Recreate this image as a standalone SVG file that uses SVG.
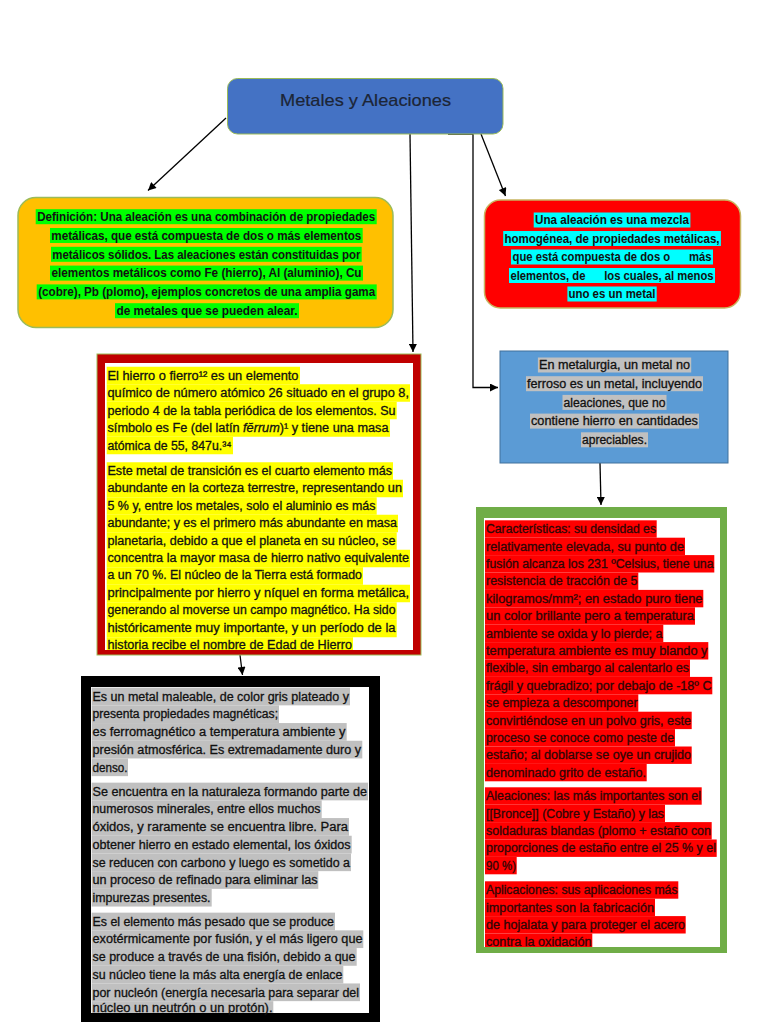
<svg xmlns="http://www.w3.org/2000/svg" width="768" height="1024" viewBox="0 0 768 1024">
<defs>
<marker id="arr" viewBox="0 0 10 10" refX="10" refY="5" markerWidth="9" markerHeight="8" markerUnits="userSpaceOnUse" orient="auto">
<path d="M0,0 L10,5 L0,10 z" fill="#000"/>
</marker>
</defs>
<style>
.t{font-family:"Liberation Sans",Arial,sans-serif;font-size:12px;fill:#111;stroke:#111;stroke-width:0.3}
.b{font-weight:bold;stroke:none}
.c{text-anchor:middle}
.pre{white-space:pre}
.hg{fill:#00FF00}
.hc{fill:#00FFFF}
.hy{fill:#FFFF00}
.hs{fill:#C0C0C0}
.hr{fill:#FF0000}
.dr{fill:#2e0606;stroke:#2e0606}
.con{fill:none;stroke:#000;stroke-width:1.3;marker-end:url(#arr)}
</style>
<rect x="0" y="0" width="768" height="1024" fill="#ffffff"/>

<g id="connectors">
<path class="con" d="M226,118 L148,190.5"/>
<path class="con" d="M410,134 L413,352"/>
<path class="con" d="M448,134 L473,134 L473,387.5 L498,387.5"/>
<path class="con" d="M481,134 L505.5,196"/>
<path class="con" d="M600,463 L601,505"/>
<path class="con" d="M240,655 L242.5,675"/>
</g>

<g id="node-title">
<rect x="227.5" y="78.5" width="275.5" height="55.5" rx="10" fill="#4472C4" stroke="#9BBB59" stroke-width="1"/>
<text class="t c" x="365.5" y="106" style="font-size:17px;fill:#1c2536;stroke:#1c2536;stroke-width:0.2" textLength="171" lengthAdjust="spacingAndGlyphs">Metales y Aleaciones</text>
</g>

<g id="node-definicion">
<rect x="18" y="197.5" width="375" height="130" rx="18" fill="#FFC000" stroke="#9BBB59" stroke-width="1.5"/>
<rect class="hg" x="35.7" y="209.2" width="341" height="15"/>
<rect class="hg" x="50" y="228" width="312.7" height="15"/>
<rect class="hg" x="51" y="246.8" width="310.7" height="15"/>
<rect class="hg" x="50" y="265.6" width="313" height="15"/>
<rect class="hg" x="36.7" y="284.4" width="340" height="15"/>
<rect class="hg" x="115" y="303.2" width="184" height="15"/>
<text class="t b c" x="206.2" y="220.9" textLength="338" lengthAdjust="spacingAndGlyphs">Definición: Una aleación es una combinación de propiedades</text>
<text class="t b c" x="206.35" y="239.7" textLength="310" lengthAdjust="spacingAndGlyphs">metálicas, que está compuesta de dos o más elementos</text>
<text class="t b c" x="206.35" y="258.5" textLength="308" lengthAdjust="spacingAndGlyphs">metálicos sólidos. Las aleaciones están constituidas por</text>
<text class="t b c" x="206.5" y="277.3" textLength="310" lengthAdjust="spacingAndGlyphs">elementos metálicos como Fe (hierro), Al (aluminio), Cu</text>
<text class="t b c" x="206.7" y="296.1" textLength="337" lengthAdjust="spacingAndGlyphs">(cobre), Pb (plomo), ejemplos concretos de una amplia gama</text>
<text class="t b c" x="207" y="314.9" textLength="181" lengthAdjust="spacingAndGlyphs">de metales que se pueden alear.</text>
</g>

<g id="node-mezcla">
<rect x="484.5" y="200" width="256" height="108" rx="16" fill="#FF0000" stroke="#C8B560" stroke-width="1.5"/>
<rect class="hc" x="533.7" y="212.5" width="156.7" height="15"/>
<rect class="hc" x="503.2" y="231" width="217.7" height="15"/>
<rect class="hc" x="511" y="249.5" width="202" height="15"/>
<rect class="hc" x="509" y="268" width="206" height="15"/>
<rect class="hc" x="567.4" y="286.5" width="89.3" height="15"/>
<text class="t b c" x="612" y="224.2" textLength="154" lengthAdjust="spacingAndGlyphs">Una aleación es una mezcla</text>
<text class="t b c" x="612" y="242.7" textLength="215" lengthAdjust="spacingAndGlyphs">homogénea, de propiedades metálicas,</text>
<text class="t b c pre" x="612" y="261.2" textLength="199" lengthAdjust="spacingAndGlyphs">que está compuesta de dos o      más</text>
<text class="t b c pre" x="612" y="279.7" textLength="203" lengthAdjust="spacingAndGlyphs">elementos, de      los cuales, al menos</text>
<text class="t b c" x="612" y="298.2" textLength="87" lengthAdjust="spacingAndGlyphs">uno es un metal</text>
</g>

<g id="node-hierro">
<rect x="97" y="354" width="324" height="301" fill="#C00000" stroke="#9BBB59" stroke-width="1"/>
<rect x="105" y="363" width="308" height="287" fill="#ffffff"/>
<rect class="hy" x="106.7" y="366.75" width="193.3" height="17.5"/>
<rect class="hy" x="106.7" y="384.25" width="303.3" height="17.5"/>
<rect class="hy" x="106.7" y="401.75" width="290" height="17.5"/>
<rect class="hy" x="106.7" y="419.25" width="283.3" height="17.5"/>
<rect class="hy" x="106.7" y="436.75" width="126.3" height="17.5"/>
<text class="t" x="107.5" y="379.7" textLength="191" lengthAdjust="spacingAndGlyphs">El hierro o fierro¹² es un elemento</text>
<text class="t" x="107.5" y="397.2" textLength="301.5" lengthAdjust="spacingAndGlyphs">químico de número atómico 26 situado en el grupo 8,</text>
<text class="t" x="107.5" y="414.7" textLength="288" lengthAdjust="spacingAndGlyphs">periodo 4 de la tabla periódica de los elementos. Su</text>
<text class="t" x="107.5" y="432.2" textLength="281" lengthAdjust="spacingAndGlyphs">símbolo es Fe (del latín <tspan font-style="italic">fĕrrum</tspan>)¹ y tiene una masa</text>
<text class="t" x="107.5" y="449.7" textLength="124" lengthAdjust="spacingAndGlyphs">atómica de 55, 847u.³⁴</text>
<rect class="hy" x="106.7" y="462.25" width="286.3" height="17.5"/>
<rect class="hy" x="106.7" y="479.75" width="296.3" height="17.5"/>
<rect class="hy" x="106.7" y="497.25" width="270" height="17.5"/>
<rect class="hy" x="106.7" y="514.75" width="291.3" height="17.5"/>
<rect class="hy" x="106.7" y="532.25" width="290" height="17.5"/>
<rect class="hy" x="106.7" y="549.75" width="303.3" height="17.5"/>
<rect class="hy" x="106.7" y="567.25" width="256.3" height="17.5"/>
<rect class="hy" x="106.7" y="584.75" width="303.3" height="17.5"/>
<rect class="hy" x="106.7" y="602.25" width="290" height="17.5"/>
<rect class="hy" x="106.7" y="619.75" width="290" height="17.5"/>
<rect class="hy" x="106.7" y="637.25" width="246.3" height="12.75"/>
<text class="t" x="107.5" y="475" textLength="284.5" lengthAdjust="spacingAndGlyphs">Este metal de transición es el cuarto elemento más</text>
<text class="t" x="107.5" y="492.4" textLength="294.5" lengthAdjust="spacingAndGlyphs">abundante en la corteza terrestre, representando un</text>
<text class="t" x="107.5" y="509.8" textLength="268" lengthAdjust="spacingAndGlyphs">5 % y, entre los metales, solo el aluminio es más</text>
<text class="t" x="107.5" y="527.2" textLength="289.5" lengthAdjust="spacingAndGlyphs">abundante; y es el primero más abundante en masa</text>
<text class="t" x="107.5" y="544.6" textLength="288" lengthAdjust="spacingAndGlyphs">planetaria, debido a que el planeta en su núcleo, se</text>
<text class="t" x="107.5" y="562" textLength="301.5" lengthAdjust="spacingAndGlyphs">concentra la mayor masa de hierro nativo equivalente</text>
<text class="t" x="107.5" y="579.4" textLength="254.5" lengthAdjust="spacingAndGlyphs">a un 70 %. El núcleo de la Tierra está formado</text>
<text class="t" x="107.5" y="596.8" textLength="301.5" lengthAdjust="spacingAndGlyphs">principalmente por hierro y níquel en forma metálica,</text>
<text class="t" x="107.5" y="614.2" textLength="288" lengthAdjust="spacingAndGlyphs">generando al moverse un campo magnético. Ha sido</text>
<text class="t" x="107.5" y="631.6" textLength="288" lengthAdjust="spacingAndGlyphs">históricamente muy importante, y un período de la</text>
<text class="t" x="107.5" y="648.6" textLength="244.5" lengthAdjust="spacingAndGlyphs">historia recibe el nombre de Edad de Hierro</text>
</g>

<g id="node-no-ferroso">
<rect x="500" y="351" width="228" height="112" fill="#5B9BD5" stroke="#41719C" stroke-width="1"/>
<rect class="hs" x="537.9" y="357.5" width="153.3" height="15"/>
<rect class="hs" x="526" y="376.2" width="177" height="15"/>
<rect class="hs" x="562.5" y="394.9" width="104" height="15"/>
<rect class="hs" x="530" y="413.6" width="169" height="15"/>
<rect class="hs" x="581" y="432.3" width="67" height="15"/>
<text class="t c" x="614.5" y="369.2" textLength="151" lengthAdjust="spacingAndGlyphs">En metalurgia, un metal no</text>
<text class="t c" x="614.5" y="387.9" textLength="175" lengthAdjust="spacingAndGlyphs">ferroso es un metal, incluyendo</text>
<text class="t c" x="614.5" y="406.6" textLength="102" lengthAdjust="spacingAndGlyphs">aleaciones, que no</text>
<text class="t c" x="614.5" y="425.3" textLength="167" lengthAdjust="spacingAndGlyphs">contiene hierro en cantidades</text>
<text class="t c" x="614.5" y="444" textLength="65" lengthAdjust="spacingAndGlyphs">apreciables.</text>
</g>

<g id="node-propiedades">
<rect x="81" y="676" width="299" height="346" fill="#000000"/>
<rect x="91" y="687" width="278" height="326" fill="#ffffff"/>
<rect class="hs" x="91.7" y="687.65" width="258.3" height="17.7"/>
<rect class="hs" x="91.7" y="705.35" width="187.3" height="17.7"/>
<rect class="hs" x="91.7" y="723.05" width="255" height="17.7"/>
<rect class="hs" x="91.7" y="740.75" width="270.6" height="17.7"/>
<rect class="hs" x="91.7" y="758.45" width="36.3" height="17.7"/>
<text class="t" x="92.5" y="700.7" textLength="256.5" lengthAdjust="spacingAndGlyphs">Es un metal maleable, de color gris plateado y</text>
<text class="t" x="92.5" y="718.4" textLength="185.5" lengthAdjust="spacingAndGlyphs">presenta propiedades magnéticas;</text>
<text class="t" x="92.5" y="736.1" textLength="253" lengthAdjust="spacingAndGlyphs">es ferromagnético a temperatura ambiente y</text>
<text class="t" x="92.5" y="753.8" textLength="268.5" lengthAdjust="spacingAndGlyphs">presión atmosférica. Es extremadamente duro y</text>
<text class="t" x="92.5" y="771.5" textLength="35" lengthAdjust="spacingAndGlyphs">denso.</text>
<rect class="hs" x="91.7" y="782.65" width="276.3" height="17.7"/>
<rect class="hs" x="91.7" y="800.35" width="230" height="17.7"/>
<rect class="hs" x="91.7" y="818.05" width="257.3" height="17.7"/>
<rect class="hs" x="91.7" y="835.75" width="260" height="17.7"/>
<rect class="hs" x="91.7" y="853.45" width="259.3" height="17.7"/>
<rect class="hs" x="91.7" y="871.15" width="226.6" height="17.7"/>
<rect class="hs" x="91.7" y="888.85" width="120" height="17.7"/>
<text class="t" x="92.5" y="795.7" textLength="274.5" lengthAdjust="spacingAndGlyphs">Se encuentra en la naturaleza formando parte de</text>
<text class="t" x="92.5" y="813.4" textLength="228" lengthAdjust="spacingAndGlyphs">numerosos minerales, entre ellos muchos</text>
<text class="t" x="92.5" y="831.1" textLength="255.5" lengthAdjust="spacingAndGlyphs">óxidos, y raramente se encuentra libre. Para</text>
<text class="t" x="92.5" y="848.8" textLength="258" lengthAdjust="spacingAndGlyphs">obtener hierro en estado elemental, los óxidos</text>
<text class="t" x="92.5" y="866.5" textLength="257.5" lengthAdjust="spacingAndGlyphs">se reducen con carbono y luego es sometido a</text>
<text class="t" x="92.5" y="884.2" textLength="225" lengthAdjust="spacingAndGlyphs">un proceso de refinado para eliminar las</text>
<text class="t" x="92.5" y="901.9" textLength="118" lengthAdjust="spacingAndGlyphs">impurezas presentes.</text>
<rect class="hs" x="91.7" y="912.65" width="243.3" height="17.7"/>
<rect class="hs" x="91.7" y="930.35" width="271.6" height="17.7"/>
<rect class="hs" x="91.7" y="948.05" width="265" height="17.7"/>
<rect class="hs" x="91.7" y="965.75" width="251.6" height="17.7"/>
<rect class="hs" x="91.7" y="983.45" width="268.3" height="17.7"/>
<rect class="hs" x="91.7" y="1001.15" width="181.6" height="11.85"/>
<text class="t" x="92.5" y="925.7" textLength="241.5" lengthAdjust="spacingAndGlyphs">Es el elemento más pesado que se produce</text>
<text class="t" x="92.5" y="943.4" textLength="270" lengthAdjust="spacingAndGlyphs">exotérmicamente por fusión, y el más ligero que</text>
<text class="t" x="92.5" y="961.1" textLength="263" lengthAdjust="spacingAndGlyphs">se produce a través de una fisión, debido a que</text>
<text class="t" x="92.5" y="978.8" textLength="250" lengthAdjust="spacingAndGlyphs">su núcleo tiene la más alta energía de enlace</text>
<text class="t" x="92.5" y="996.5" textLength="266.5" lengthAdjust="spacingAndGlyphs">por nucleón (energía necesaria para separar del</text>
<text class="t" x="92.5" y="1011.5" textLength="180" lengthAdjust="spacingAndGlyphs">núcleo un neutrón o un protón).</text>
</g>

<g id="node-estano">
<rect x="476" y="507" width="251" height="446" fill="#70AD47"/>
<rect x="484" y="518" width="236" height="429" fill="#ffffff"/>
<rect class="hr" x="485" y="520.3" width="171.7" height="17.4"/>
<rect class="hr" x="485" y="537.7" width="200" height="17.4"/>
<rect class="hr" x="485" y="555.1" width="229.3" height="17.4"/>
<rect class="hr" x="485" y="572.5" width="153.3" height="17.4"/>
<rect class="hr" x="485" y="589.9" width="218.3" height="17.4"/>
<rect class="hr" x="485" y="607.3" width="210" height="17.4"/>
<rect class="hr" x="485" y="624.7" width="178.3" height="17.4"/>
<rect class="hr" x="485" y="642.1" width="223.3" height="17.4"/>
<rect class="hr" x="485" y="659.5" width="205" height="17.4"/>
<rect class="hr" x="485" y="676.9" width="227.3" height="17.4"/>
<rect class="hr" x="485" y="694.3" width="153.3" height="17.4"/>
<rect class="hr" x="485" y="711.7" width="206.7" height="17.4"/>
<rect class="hr" x="485" y="729.1" width="190" height="17.4"/>
<rect class="hr" x="485" y="746.5" width="206.7" height="17.4"/>
<rect class="hr" x="485" y="763.9" width="161.7" height="17.4"/>
<text class="t dr" x="486" y="533.2" textLength="170" lengthAdjust="spacingAndGlyphs">Características: su densidad es</text>
<text class="t dr" x="486" y="550.6" textLength="198" lengthAdjust="spacingAndGlyphs">relativamente elevada, su punto de</text>
<text class="t dr" x="486" y="568" textLength="227.5" lengthAdjust="spacingAndGlyphs">fusión alcanza los 231 ºCelsius, tiene una</text>
<text class="t dr" x="486" y="585.4" textLength="151.5" lengthAdjust="spacingAndGlyphs">resistencia de tracción de 5</text>
<text class="t dr" x="486" y="602.8" textLength="216.5" lengthAdjust="spacingAndGlyphs">kilogramos/mm²; en estado puro tiene</text>
<text class="t dr" x="486" y="620.2" textLength="208" lengthAdjust="spacingAndGlyphs">un color brillante pero a temperatura</text>
<text class="t dr" x="486" y="637.6" textLength="176.5" lengthAdjust="spacingAndGlyphs">ambiente se oxida y lo pierde; a</text>
<text class="t dr" x="486" y="655" textLength="221.5" lengthAdjust="spacingAndGlyphs">temperatura ambiente es muy blando y</text>
<text class="t dr" x="486" y="672.4" textLength="203" lengthAdjust="spacingAndGlyphs">flexible, sin embargo al calentarlo es</text>
<text class="t dr" x="486" y="689.8" textLength="225.5" lengthAdjust="spacingAndGlyphs">frágil y quebradizo; por debajo de -18º C</text>
<text class="t dr" x="486" y="707.2" textLength="151.5" lengthAdjust="spacingAndGlyphs">se empieza a descomponer</text>
<text class="t dr" x="486" y="724.6" textLength="205" lengthAdjust="spacingAndGlyphs">convirtiéndose en un polvo gris, este</text>
<text class="t dr" x="486" y="742" textLength="188" lengthAdjust="spacingAndGlyphs">proceso se conoce como peste de</text>
<text class="t dr" x="486" y="759.4" textLength="205" lengthAdjust="spacingAndGlyphs">estaño; al doblarse se oye un crujido</text>
<text class="t dr" x="486" y="776.8" textLength="160" lengthAdjust="spacingAndGlyphs">denominado grito de estaño.</text>
<rect class="hr" x="485" y="787.3" width="216.7" height="17.4"/>
<rect class="hr" x="485" y="804.7" width="180" height="17.4"/>
<rect class="hr" x="485" y="822.1" width="226.7" height="17.4"/>
<rect class="hr" x="485" y="839.5" width="231.7" height="17.4"/>
<rect class="hr" x="485" y="856.9" width="31.7" height="17.4"/>
<text class="t dr" x="486" y="800.2" textLength="215" lengthAdjust="spacingAndGlyphs">Aleaciones: las más importantes son el</text>
<text class="t dr" x="486" y="817.6" textLength="178" lengthAdjust="spacingAndGlyphs">[[Bronce]] (Cobre y Estaño) y las</text>
<text class="t dr" x="486" y="835" textLength="225" lengthAdjust="spacingAndGlyphs">soldaduras blandas (plomo + estaño con</text>
<text class="t dr" x="486" y="852.4" textLength="230" lengthAdjust="spacingAndGlyphs">proporciones de estaño entre el 25 % y el</text>
<text class="t dr" x="486" y="869.8" textLength="30" lengthAdjust="spacingAndGlyphs">90 %)</text>
<rect class="hr" x="485" y="881.3" width="193.3" height="17.4"/>
<rect class="hr" x="485" y="898.7" width="170" height="17.4"/>
<rect class="hr" x="485" y="916.1" width="200.7" height="17.4"/>
<rect class="hr" x="485" y="933.5" width="107.3" height="13.5"/>
<text class="t dr" x="486" y="894.2" textLength="191.5" lengthAdjust="spacingAndGlyphs">Aplicaciones: sus aplicaciones más</text>
<text class="t dr" x="486" y="911.6" textLength="168" lengthAdjust="spacingAndGlyphs">importantes son la fabricación</text>
<text class="t dr" x="486" y="929" textLength="199" lengthAdjust="spacingAndGlyphs">de hojalata y para proteger el acero</text>
<text class="t dr" x="486" y="946" textLength="105.5" lengthAdjust="spacingAndGlyphs">contra la oxidación</text>
</g>
</svg>
